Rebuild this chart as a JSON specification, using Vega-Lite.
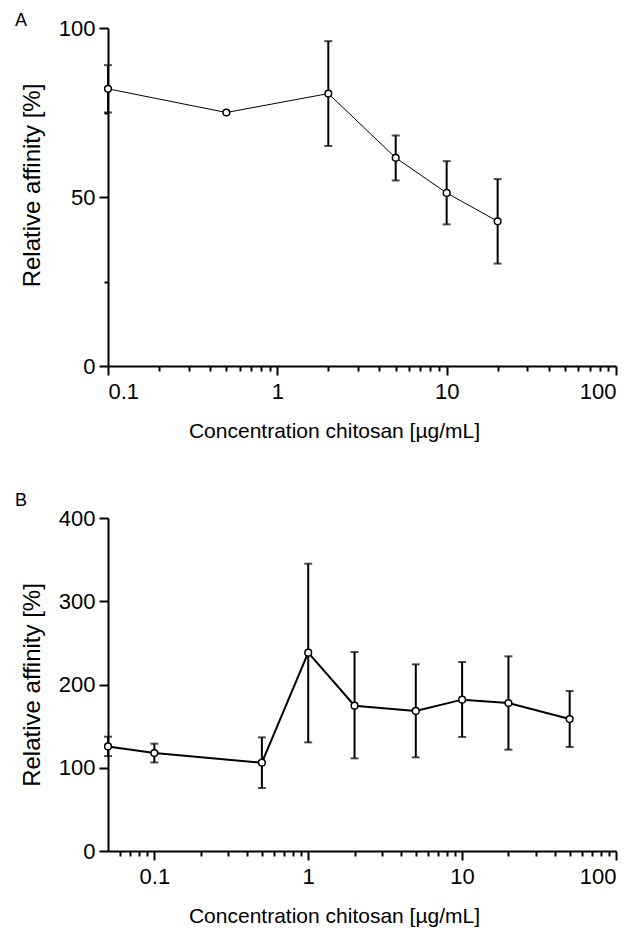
{
  "$schema": "https://vega.github.io/schema/vega-lite/v6.json",
  "padding": {"left": 15, "top": 12, "right": 5, "bottom": 5},
  "background": "white",
  "datasets": {
    "a": [
      {"conc": 0.1, "aff": 82, "lo": 75, "hi": 89},
      {"conc": 0.5, "aff": 75, "lo": null, "hi": null},
      {"conc": 2, "aff": 80.6, "lo": 65.1, "hi": 96.1},
      {"conc": 5, "aff": 61.6, "lo": 54.9, "hi": 68.2},
      {"conc": 10, "aff": 51.2, "lo": 41.9, "hi": 60.6},
      {"conc": 20, "aff": 42.8, "lo": 30.3, "hi": 55.3}
    ],
    "b": [
      {"conc": 0.05, "aff": 125.6, "lo": 114, "hi": 137.3},
      {"conc": 0.1, "aff": 117.7, "lo": 106.4, "hi": 128.9},
      {"conc": 0.5, "aff": 106.1, "lo": 75.7, "hi": 136.5},
      {"conc": 1, "aff": 238.2, "lo": 130.5, "hi": 345.1},
      {"conc": 2, "aff": 174.5, "lo": 111.3, "hi": 239},
      {"conc": 5, "aff": 168.2, "lo": 112.5, "hi": 224.2},
      {"conc": 10, "aff": 181.8, "lo": 137, "hi": 227},
      {"conc": 20, "aff": 177.8, "lo": 121.7, "hi": 233.8},
      {"conc": 50, "aff": 158.5, "lo": 124.9, "hi": 192.2}
    ]
  },
  "config": {
    "font": "Liberation Sans",
    "view": {"stroke": null},
    "concat": {"spacing": 51},
    "axis": {
      "grid": false,
      "domainColor": "black",
      "domainWidth": 2,
      "tickColor": "black",
      "tickWidth": 2,
      "labelColor": "black",
      "labelFont": "Liberation Sans",
      "labelFontSize": 22,
      "titleFont": "Liberation Sans",
      "titleFontSize": 21,
      "titleFontWeight": "normal",
      "titleColor": "black",
      "labelPadding": 4
    },
    "axisY": {"titleFontSize": 24},
    "title": {"font": "Liberation Sans", "fontSize": 18, "fontWeight": "normal", "color": "black", "anchor": "start", "frame": "group", "dx": -93}
  },
  "vconcat": [
    {
      "width": 508,
      "height": 338,
      "title": {"text": "A", "offset": -13},
      "data": {"name": "a"},
      "encoding": {
        "x": {
          "field": "conc", "type": "quantitative",
          "scale": {"type": "log", "domain": [0.1, 100], "nice": false},
          "axis": {
            "title": "Concentration chitosan [µg/mL]",
            "titleX": 226,
            "values": [0.1, 0.2, 0.3, 0.4, 0.5, 0.6, 0.7, 0.8, 0.9, 1, 2, 3, 4, 5, 6, 7, 8, 9, 10, 20, 30, 40, 50, 60, 70, 80, 90, 100],
            "format": "~g",
            "labelExpr": "datum.value == 0.1 || datum.value == 1 || datum.value == 10 || datum.value == 100 ? datum.label : ''",
            "tickSize": {"condition": {"test": "datum.value == 0.1 || datum.value == 1 || datum.value == 10 || datum.value == 100", "value": 9}, "value": 5},
            "labelPadding": 6,
            "titlePadding": 18
          }
        }
      },
      "layer": [
        {
          "mark": {"type": "rule", "color": "black", "strokeWidth": 2},
          "encoding": {
            "y": {"field": "lo", "type": "quantitative", "scale": {"domain": [0, 100], "nice": false}, "title": "Relative affinity [%]"},
            "y2": {"field": "hi"}
          }
        },
        {
          "transform": [{"fold": ["lo", "hi"], "as": ["k", "v"]}],
          "mark": {"type": "tick", "orient": "horizontal", "color": "black", "size": 8, "thickness": 2},
          "encoding": {
            "y": {"field": "v", "type": "quantitative", "title": "Relative affinity [%]"}
          }
        },
        {
          "mark": {"type": "line", "color": "black", "strokeWidth": 1},
          "encoding": {
            "y": {"field": "aff", "type": "quantitative", "title": "Relative affinity [%]",
              "axis": {
                "values": [0, 25, 50, 75, 100],
                "labelExpr": "datum.value % 50 === 0 ? datum.label : ''",
                "tickSize": {"condition": {"test": "datum.value % 50 === 0", "value": 9}, "value": 4},
                "titlePadding": 14,
                "titleY": 157
              }
            }
          }
        },
        {
          "mark": {"type": "point", "shape": "circle", "filled": false, "fill": "white", "fillOpacity": 1, "stroke": "black", "strokeWidth": 1.5, "size": 45, "opacity": 1},
          "encoding": {
            "y": {"field": "aff", "type": "quantitative", "title": "Relative affinity [%]"}
          }
        }
      ]
    },
    {
      "width": 508,
      "height": 333,
      "title": {"text": "B", "offset": -3},
      "data": {"name": "b"},
      "encoding": {
        "x": {
          "field": "conc", "type": "quantitative",
          "scale": {"type": "log", "domain": [0.05, 100], "nice": false},
          "axis": {
            "title": "Concentration chitosan [µg/mL]",
            "titleX": 226,
            "values": [0.06, 0.07, 0.08, 0.09, 0.1, 0.2, 0.3, 0.4, 0.5, 0.6, 0.7, 0.8, 0.9, 1, 2, 3, 4, 5, 6, 7, 8, 9, 10, 20, 30, 40, 50, 60, 70, 80, 90, 100],
            "format": "~g",
            "labelExpr": "datum.value == 0.1 || datum.value == 1 || datum.value == 10 || datum.value == 100 ? datum.label : ''",
            "tickSize": {"condition": {"test": "datum.value == 0.1 || datum.value == 1 || datum.value == 10 || datum.value == 100", "value": 9}, "value": 5},
            "labelPadding": 6,
            "titlePadding": 18
          }
        }
      },
      "layer": [
        {
          "mark": {"type": "rule", "color": "black", "strokeWidth": 2},
          "encoding": {
            "y": {"field": "lo", "type": "quantitative", "scale": {"domain": [0, 400], "nice": false}, "title": "Relative affinity [%]"},
            "y2": {"field": "hi"}
          }
        },
        {
          "transform": [{"fold": ["lo", "hi"], "as": ["k", "v"]}],
          "mark": {"type": "tick", "orient": "horizontal", "color": "black", "size": 8, "thickness": 2},
          "encoding": {
            "y": {"field": "v", "type": "quantitative", "title": "Relative affinity [%]"}
          }
        },
        {
          "mark": {"type": "line", "color": "black", "strokeWidth": 2},
          "encoding": {
            "y": {"field": "aff", "type": "quantitative", "title": "Relative affinity [%]",
              "axis": {
                "values": [0, 100, 200, 300, 400],
                "tickSize": 9,
                "titlePadding": 14
              }
            }
          }
        },
        {
          "mark": {"type": "point", "shape": "circle", "filled": false, "fill": "white", "fillOpacity": 1, "stroke": "black", "strokeWidth": 1.5, "size": 45, "opacity": 1},
          "encoding": {
            "y": {"field": "aff", "type": "quantitative", "title": "Relative affinity [%]"}
          }
        }
      ]
    }
  ]
}
